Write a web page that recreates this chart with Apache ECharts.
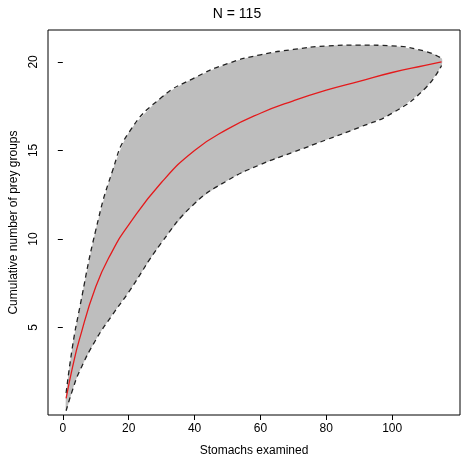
<!DOCTYPE html><html><head><meta charset="utf-8">
<script src="https://cdn.jsdelivr.net/npm/echarts@6/dist/echarts.min.js"></script>
<style>html,body{margin:0;background:#fff}#c{width:474px;height:462px}</style></head><body><div id="c"></div>
<script>
const xs=[1,3,5,10,15,20,30,40,50,60,70,80,90,100,110,115];
const meanV=[1,2.8,4.3,7.3,9.3,10.8,13.2,15,16.2,17.1,17.8,18.4,18.9,19.4,19.8,20];
const upperV=[1.3,4,6,10.5,13.8,16,18,19.1,19.9,20.4,20.7,20.9,20.95,20.9,20.6,20.2];
const lowerV=[0.3,1.5,2.5,4.3,5.7,7,9.8,12,13.3,14.2,14.9,15.6,16.3,17.1,18.5,19.8];
const xTicks=[0,20,40,60,80,100];
const yTicks=[5,10,15,20];
const pair=a=>xs.map((x,i)=>[x,a[i]]);
const font='Liberation Sans';
const chart=echarts.init(document.getElementById('c'));
chart.setOption({
 animation:false,
 title:{text:'N = 115',left:'center',top:2,textStyle:{fontFamily:font,fontSize:14,fontWeight:'normal',color:'#000'}},
 grid:{left:47,right:14,top:30,bottom:47,show:true,borderColor:'#000',borderWidth:1},
 xAxis:{type:'value',min:-4.5,max:120.6,name:'Stomachs examined',nameLocation:'middle',nameGap:30,
  nameTextStyle:{fontFamily:font,fontSize:12,color:'#000'},
  axisLine:{show:false},splitLine:{show:false},
  axisTick:{show:true,customValues:xTicks,length:5,lineStyle:{color:'#000'}},
  axisLabel:{customValues:xTicks,fontFamily:font,fontSize:12,color:'#000'}},
 yAxis:{type:'value',min:0.06,max:21.8,name:'Cumulative number of prey groups',nameLocation:'middle',nameGap:28,
  nameTextStyle:{fontFamily:font,fontSize:12,color:'#000'},
  axisLine:{show:false},splitLine:{show:false},
  axisTick:{show:true,customValues:yTicks,length:5,lineStyle:{color:'#000'}},
  axisLabel:{customValues:yTicks,rotate:90,fontFamily:font,fontSize:12,color:'#000'}},
 series:[
  {type:'custom',data:[0],renderItem:(params,api)=>{
    const pts=xs.map((x,i)=>api.coord([x,upperV[i]])).concat(xs.map((x,i)=>api.coord([x,lowerV[i]])).reverse());
    return {type:'polygon',shape:{points:pts,smooth:0.25},style:{fill:'#bebebe'}};
  },z:1},
  {type:'line',data:pair(lowerV),smooth:true,symbol:'none',lineStyle:{color:'#222',type:[5,4],width:1.3},z:3},
  {type:'line',data:pair(upperV),smooth:true,symbol:'none',lineStyle:{color:'#222',type:[5,4],width:1.3},z:3},
  {type:'line',data:pair(meanV),smooth:true,symbol:'none',lineStyle:{color:'#e41a1c',width:1.3},z:4}
 ]
});
</script></body></html>
